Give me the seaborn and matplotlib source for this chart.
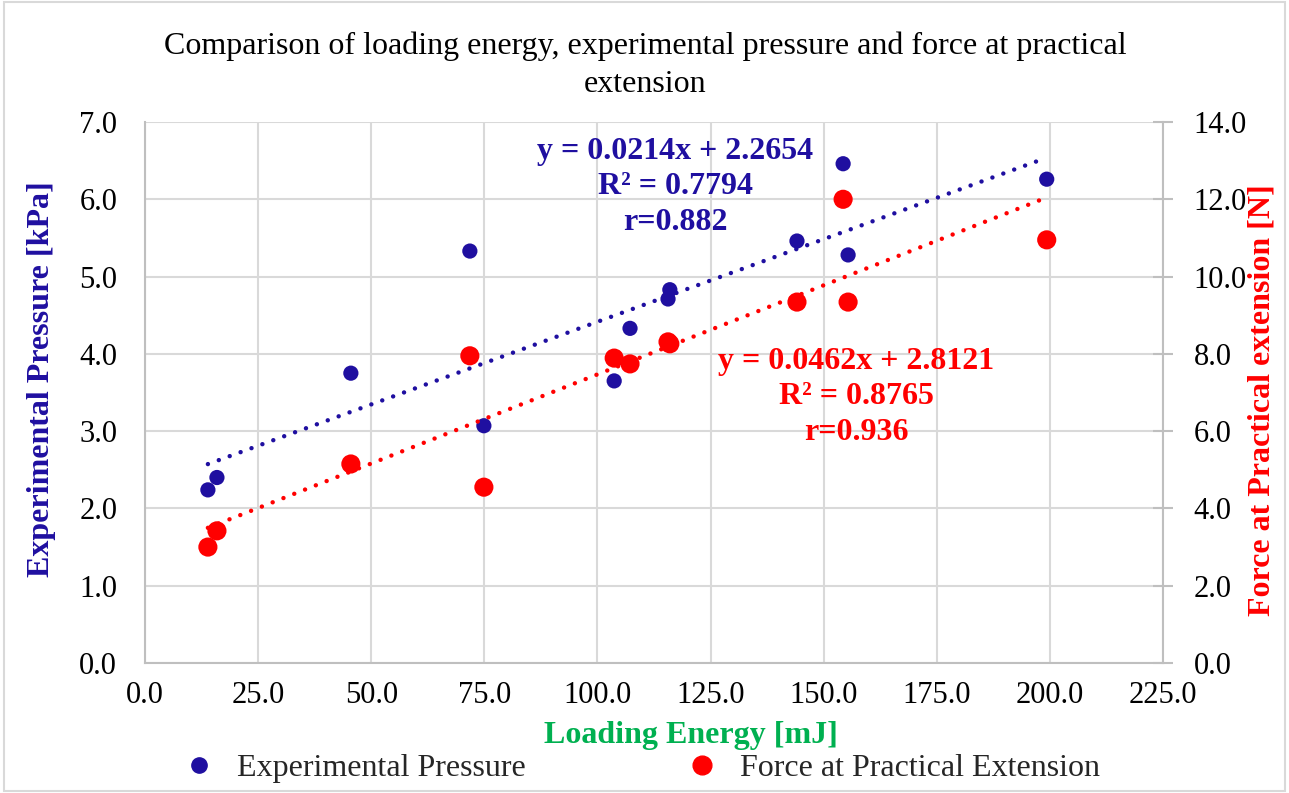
import matplotlib
matplotlib.use("Agg")
import matplotlib.pyplot as plt
import seaborn as sns
import pandas as pd
from matplotlib.patches import Rectangle
from matplotlib.lines import Line2D

# ---- data ----
energy = [13.9, 15.9, 45.5, 71.8, 74.9, 103.7, 107.2, 115.6, 116.0, 144.1, 155.4, 154.3, 199.3]
pressure = [2.24, 2.40, 3.75, 5.33, 3.07, 3.65, 4.33, 4.71, 4.83, 5.46, 5.28, 6.46, 6.26]
force = [3.00, 3.42, 5.15, 7.95, 4.55, 7.89, 7.74, 8.31, 8.26, 9.34, 9.34, 12.00, 10.95]

x_ticks = [0, 25, 50, 75, 100, 125, 150, 175, 200, 225]
y1_ticks = [0, 1, 2, 3, 4, 5, 6, 7]
y2_ticks = [0, 2, 4, 6, 8, 10, 12, 14]

title = "Comparison of loading energy, experimental pressure and force at practical\nextension"
eq_blue = "y = 0.0214x + 2.2654\nR² = 0.7794\nr=0.882"
eq_red = "y = 0.0462x + 2.8121\nR² = 0.8765\nr=0.936"

df = pd.DataFrame({"energy": energy, "pressure": pressure, "force": force})

BLUE = "#1f0fa0"
RED = "#ff0000"
GREEN = "#00b050"
GRID = "#d9d9d9"
SPINE = "#bfbfbf"

sns.set_theme(style="white")
plt.rcParams["font.family"] = ["Liberation Serif", "DejaVu Serif"]

fig = plt.figure(figsize=(12.89, 7.93), dpi=100)
ax = fig.add_axes([145/1289, 1-663/793, (1163-145)/1289, (663-122)/793])
ax2 = ax.twinx()

dot = (0, (0.01, 2.6))
sns.regplot(data=df, x="energy", y="pressure", ax=ax, ci=None, scatter=False,
            color=BLUE, line_kws=dict(linestyle=dot, linewidth=3.2, dash_capstyle="round"))
sns.regplot(data=df, x="energy", y="force", ax=ax2, ci=None, scatter=False,
            color=RED, line_kws=dict(linestyle=dot, linewidth=3.2, dash_capstyle="round"))
sns.scatterplot(data=df, x="energy", y="pressure", ax=ax, color=BLUE, s=120,
                edgecolor="none", zorder=3)
sns.scatterplot(data=df, x="energy", y="force", ax=ax2, color=RED, s=190,
                edgecolor="none", zorder=3)

ax.set_xlim(0, 225)
ax.set_ylim(0, 7)
ax2.set_ylim(0, 14)
ax.set_xticks(x_ticks)
ax.set_xticklabels([f"{v:.1f}" for v in x_ticks])
ax.set_yticks(y1_ticks)
ax.set_yticklabels([f"{v:.1f}" for v in y1_ticks])
ax2.set_yticks(y2_ticks)
ax2.set_yticklabels([f"{v:.1f}" for v in y2_ticks])

ax.grid(True, color=GRID, linewidth=1.5)
ax.set_axisbelow(True)
ax2.grid(False)
for a in (ax, ax2):
    for s in a.spines.values():
        s.set_visible(False)
    a.tick_params(axis="both", labelsize=22, length=0, colors="black")
for a, side in ((ax, "left"), (ax, "bottom"), (ax2, "right")):
    a.spines[side].set_visible(True)
    a.spines[side].set_color(SPINE)
    a.spines[side].set_linewidth(1.5)
ax.tick_params(axis="x", pad=13)
ax.tick_params(axis="y", pad=20)
ax2.tick_params(axis="y", direction="inout", length=14, width=1.5, color=SPINE,
                labelcolor="black", pad=15)

ax.set_xlabel("Loading Energy [mJ]", fontsize=23, fontweight="bold", color=GREEN)
ax.set_ylabel("Experimental Pressure [kPa]", fontsize=23, fontweight="bold", color=BLUE)
ax2.set_ylabel("Force at Practical extension [N]", fontsize=23, fontweight="bold", color=RED)
ax.xaxis.set_label_coords((691-145)/1018, (663-735)/541)
ax.yaxis.set_label_coords((42-145)/1018, (663-379)/541)
ax2.yaxis.set_label_coords((1262-145)/1018, (663-400)/541)
for lab in (ax.xaxis.label, ax.yaxis.label, ax2.yaxis.label):
    lab.set_va("center")
    lab.set_ha("center")

fig.text(645/1289, 1-65/793, title, ha="center", va="center", fontsize=23,
         linespacing=1.42, color="black")

ax.text((675-145)/1018, (663-187)/541, eq_blue, transform=ax.transAxes, ha="center",
        va="center", fontsize=23, fontweight="bold", color=BLUE, linespacing=1.3, zorder=5)
ax.text((856-145)/1018, (663-397)/541, eq_red, transform=ax.transAxes, ha="center",
        va="center", fontsize=23, fontweight="bold", color=RED, linespacing=1.3, zorder=5)

handles = [Line2D([], [], marker="o", linestyle="none", color=BLUE, markersize=11),
           Line2D([], [], marker="o", linestyle="none", color=RED, markersize=13.5)]
fig.legend(handles, ["Experimental Pressure", "Force at Practical Extension"],
           loc="center", bbox_to_anchor=(640/1289, 1-768/793), ncol=2, frameon=False,
           fontsize=23, columnspacing=4.9, handletextpad=0.6, handlelength=1.2)

fig.patches.append(Rectangle((0.003, 0.003), 0.994, 0.994, transform=fig.transFigure,
                             fill=False, edgecolor=GRID, linewidth=1.5))

fig.savefig("out.png", dpi=100)
